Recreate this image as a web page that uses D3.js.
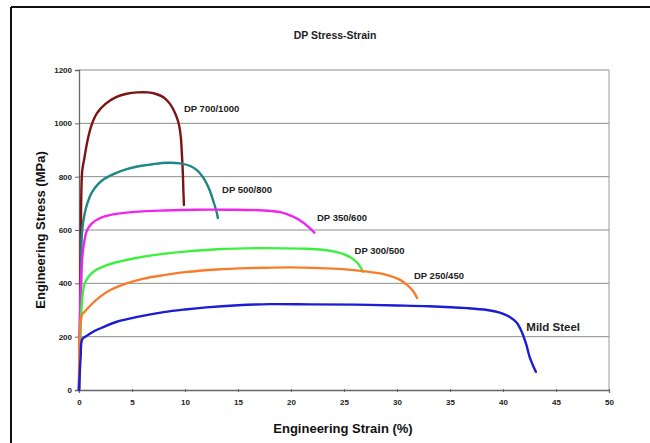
<!DOCTYPE html>
<html>
<head>
<meta charset="utf-8">
<script src="https://cdn.jsdelivr.net/npm/d3@7"></script>
<style>
  html, body { margin: 0; padding: 0; background: #fff; }
  svg { display: block; font-family: "Liberation Sans", Arial, sans-serif; }
</style>
</head>
<body>
<svg id="chart" width="650" height="443"></svg>
<script>
// Engineering stress (MPa) vs engineering strain (%) for dual-phase steels
const xTicks = [0, 5, 10, 15, 20, 25, 30, 35, 40, 45, 50];
const yTicks = [0, 200, 400, 600, 800, 1000, 1200];

const dp700 = [[0,0],[0.15,400],[0.3,820],[0.5,868],[0.8,935],[1.2,995],[1.7,1038],[2.5,1073],[3.5,1098],[4.5,1111],[5.5,1116],[6.5,1116],[7.2,1111],[8,1097],[8.6,1072],[9.1,1035],[9.4,1000],[9.6,950],[9.7,890],[9.8,810],[9.85,745],[9.9,694]];
const dp500 = [[0,0],[0.2,400],[0.28,590],[0.5,655],[0.8,702],[1.2,740],[1.8,772],[2.4,792],[2.9,803],[4,822],[5.5,838],[7,847],[8.3,852],[9.5,850],[10.5,840],[11.2,822],[11.8,792],[12.3,752],[12.7,705],[13,665],[13.1,645]];
const dp350 = [[0,0],[0.2,420],[0.4,530],[0.75,598],[1.2,624],[2,645],[3,657],[4.5,665],[6,670],[8,673],[11,676],[14,676],[17,674],[19,667],[20.2,650],[21,632],[21.7,610],[22.2,590]];
const dp300 = [[0,0],[0.2,280],[0.5,395],[0.9,425],[1.5,447],[2.5,466],[3.5,479],[5,492],[7,506],[10,519],[13,528],[17,532],[21,530],[23,526],[24.5,515],[25.6,498],[26.3,475],[26.8,443]];
const dp250 = [[0,0],[0.3,285],[0.5,292],[1,314],[2,350],[3,376],[4.5,400],[6,417],[8,431],[10,442],[13,452],[16,457],[20,460],[24,455],[27,445],[29,432],[30.3,413],[31,392],[31.5,372],[31.9,345]];
const mild = [[0,0],[0.15,120],[0.3,190],[0.6,200],[1,210],[1.5,222],[2.3,236],[3.5,255],[5.5,274],[8,292],[10,302],[12,310],[15,318],[18,322],[22,321],[26,320],[30,317],[33,314],[36.6,307],[38.5,300],[39.7,290],[40.6,275],[41.3,252],[41.8,215],[42.2,170],[42.5,125],[42.8,95],[43.1,68]];

const seriesNames = ["DP 700/1000", "DP 500/800", "DP 350/600", "DP 300/500", "DP 250/450", "Mild Steel"];
const seriesData = [dp700, dp500, dp350, dp300, dp250, mild];
const seriesColors = ["#7d1414", "#1e8784", "#f026f0", "#3ef03e", "#f87c2a", "#1c1cd6"];
// label anchors in data units (strain %, stress MPa)
const labelAt = [[9.9, 1054], [13.5, 750], [22.45, 645], [26.0, 521], [31.6, 427], [42.2, 236]];

const svg = d3.select("#chart");
const W = 650, H = 443;
const m = { left: 79, right: W - 609, top: 70, bottom: H - 390 };

// outer frame
svg.append("line").attr("x1", 11).attr("x2", W).attr("y1", 7).attr("y2", 7)
  .attr("stroke", "#111").attr("stroke-width", 2);
svg.append("line").attr("x1", 11).attr("x2", 11).attr("y1", 7).attr("y2", H)
  .attr("stroke", "#111").attr("stroke-width", 2);

const x = d3.scaleLinear().domain([0, 50]).range([m.left, W - m.right]);
const y = d3.scaleLinear().domain([0, 1200]).range([H - m.bottom, m.top]);

// horizontal gridlines
svg.append("g").selectAll("line").data(yTicks.filter(t => t > 0)).join("line")
  .attr("x1", x(0)).attr("x2", x(50))
  .attr("y1", d => y(d)).attr("y2", d => y(d))
  .attr("stroke", "#8c8c8c").attr("stroke-width", 1);
// right border of plot area
svg.append("line").attr("x1", x(50)).attr("x2", x(50)).attr("y1", y(0)).attr("y2", y(1200))
  .attr("stroke", "#9a9a9a").attr("stroke-width", 1);

// axes
const xAxis = svg.append("g").attr("transform", `translate(0,${y(0)})`)
  .call(d3.axisBottom(x).tickValues(xTicks).tickSize(3).tickPadding(6).tickFormat(d3.format("d")));
const yAxis = svg.append("g").attr("transform", `translate(${x(0)},0)`)
  .call(d3.axisLeft(y).tickValues(yTicks).tickSize(4).tickPadding(3).tickFormat(d3.format("d")));
[xAxis, yAxis].forEach(g => {
  g.select(".domain").attr("stroke", "#666").attr("stroke-width", 1.3);
  g.selectAll(".tick line").attr("stroke", "#666");
  g.selectAll(".tick text").attr("fill", "#222").style("font-size", "8px").style("font-weight", "bold")
    .style("font-family", "Liberation Sans, Arial, sans-serif");
});
xAxis.selectAll(".tick line").attr("y1", -1).attr("y2", 2);

// curves
const line = d3.line().x(d => x(d[0])).y(d => y(d[1])).curve(d3.curveCatmullRom.alpha(0.5));
const lineG = svg.append("g");
seriesData.forEach((data, i) => {
  lineG.append("path").datum(data)
    .attr("fill", "none").attr("stroke", seriesColors[i])
    .attr("stroke-width", 2.4).attr("stroke-linejoin", "round").attr("stroke-linecap", "round")
    .attr("d", line);
});

// curve labels
svg.append("g").selectAll("text").data(seriesNames).join("text")
  .attr("x", (d, i) => x(labelAt[i][0]))
  .attr("y", (d, i) => y(labelAt[i][1]))
  .attr("dy", "0.35em")
  .attr("fill", "#222")
  .style("font-weight", "bold")
  .style("font-size", (d, i) => i === 5 ? "11.5px" : "9.5px")
  .text(d => d);

// title
svg.append("text").attr("x", 335).attr("y", 35).attr("text-anchor", "middle").attr("dy", "0.35em")
  .style("font-size", "10.5px").style("font-weight", "bold").attr("fill", "#222")
  .text("DP Stress-Strain");

// axis titles
svg.append("text").attr("x", 343).attr("y", 428).attr("text-anchor", "middle").attr("dy", "0.35em")
  .style("font-size", "13px").style("font-weight", "bold").attr("fill", "#111")
  .text("Engineering Strain (%)");
svg.append("text").attr("transform", "translate(40,230) rotate(-90)")
  .attr("text-anchor", "middle").attr("dy", "0.35em")
  .style("font-size", "13px").style("font-weight", "bold").attr("fill", "#111")
  .text("Engineering Stress (MPa)");
</script>
</body>
</html>
